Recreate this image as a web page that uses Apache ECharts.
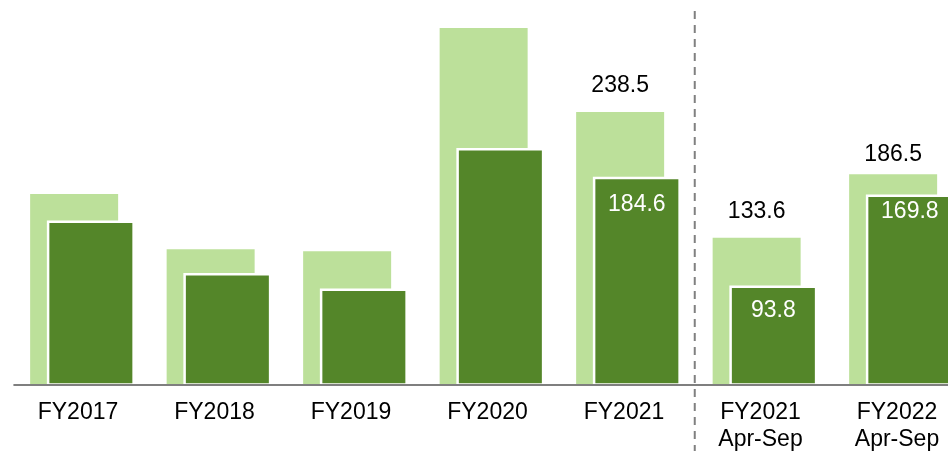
<!DOCTYPE html>
<html>
<head>
<meta charset="utf-8">
<script src="https://cdn.jsdelivr.net/npm/echarts@6/dist/echarts.min.js"></script>
<style>
  html, body { margin: 0; padding: 0; background: #fff; }
  #chart { width: 948px; height: 451px; }
</style>
</head>
<body>
<div id="chart"></div>
<script>
var categories = ['FY2017', 'FY2018', 'FY2019', 'FY2020', 'FY2021', 'FY2021\nApr-Sep', 'FY2022\nApr-Sep']
var lightValues = [170.2, 124.1, 122.4, 308.5, 238.5, 133.6, 186.5]
var darkValues = [148.1, 104.3, 91.4, 208.5, 184.6, 93.8, 169.8]
// only these bars carry a value label
var labelled = [4, 5, 6]
var lightLabelGap = [14.5, 15, 8.5]
var darkLabelGap = [16.5, 13.5, 5.5]

var font = 'Liberation Sans, Arial, sans-serif'
var chart = echarts.init(document.getElementById('chart'))

function buildData(values, gaps, color) {
  return values.map(function(v, i) {
    var k = labelled.indexOf(i)
    return {
      value: v,
      label: {
        show: k >= 0,
        distance: k >= 0 ? gaps[k] : 5,
        color: color
      }
    }
  })
}

chart.setOption({
  animation: false,
  grid: {
    left: 14.25,
    top: 0,
    width: 955.5,
    bottom: 66.5,
    containLabel: false,
    outerBoundsMode: 'none'
  },
  xAxis: {
    type: 'category',
    data: categories,
    boundaryGap: true,
    z: 10,
    axisLine: { lineStyle: { color: '#7f7f7f', width: 2.2 } },
    axisTick: { show: false },
    axisLabel: {
      interval: 0,
      color: '#000',
      fontFamily: font,
      fontSize: 23,
      lineHeight: 27,
      margin: 15,
      padding: [0, 9, 0, 0]
    }
  },
  yAxis: {
    type: 'value',
    show: false,
    min: 11.4,
    max: 331.8,
    splitLine: { show: false }
  },
  series: [{
    type: 'bar',
    barWidth: 88,
    barGap: '-81%',
    itemStyle: { color: '#bce09a' },
    label: {
      position: 'top',
      fontFamily: font,
      fontSize: 23
    },
    data: buildData(lightValues, lightLabelGap, '#000')
  }, {
    type: 'bar',
    barWidth: 88,
    barGap: '-81%',
    itemStyle: { color: '#548629', borderColor: '#fff', borderWidth: 2.5 },
    label: {
      position: 'insideTop',
      fontFamily: font,
      fontSize: 23
    },
    data: buildData(darkValues, darkLabelGap, '#fff')
  }]
})

// dashed divider between full years and half years
var a = chart.convertToPixel({ xAxisIndex: 0 }, 4)
var b = chart.convertToPixel({ xAxisIndex: 0 }, 5)
var x = (a + b) / 2 - 2
chart.setOption({
  graphic: [{
    type: 'line',
    shape: { x1: x, y1: 11, x2: x, y2: 451 },
    style: { stroke: '#808080', lineWidth: 2, lineDash: [8, 6] },
    z: 10
  }]
})
</script>
</body>
</html>
